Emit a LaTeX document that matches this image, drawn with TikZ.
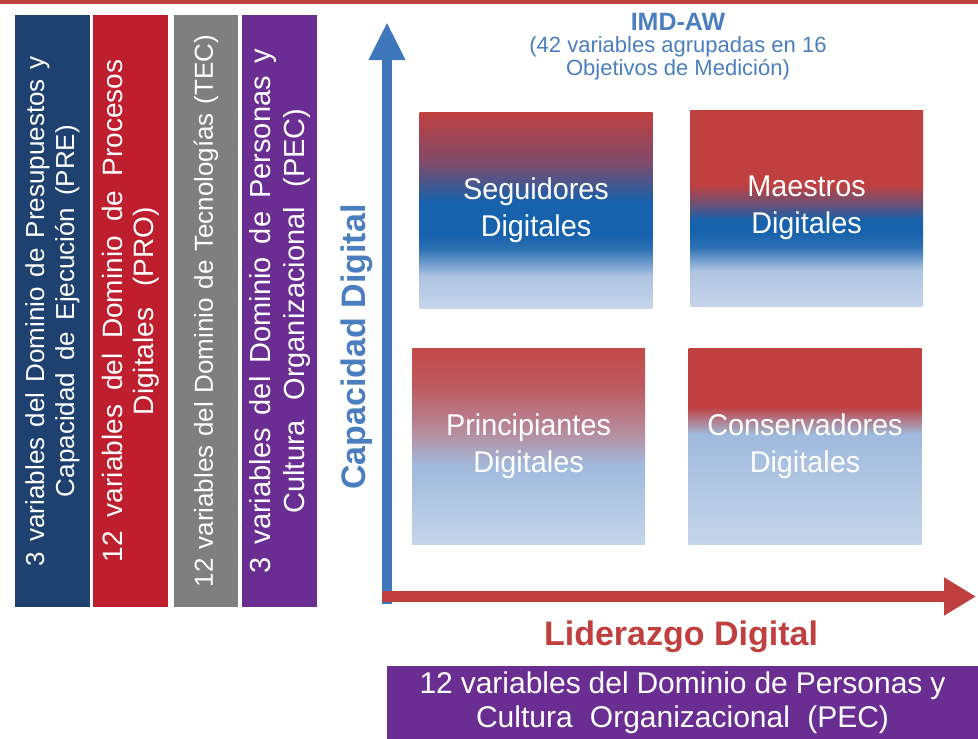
\documentclass[tikz,border=0pt]{standalone}
\usepackage{fontspec}
\setmainfont{Liberation Sans}
\newfontfamily\quadfont[FakeStretch=0.96]{Liberation Sans}
\usetikzlibrary{arrows.meta}

\definecolor{topred}{HTML}{C0403F}
\definecolor{barblue}{HTML}{1F4170}
\definecolor{barred}{HTML}{BE1E2D}
\definecolor{bargray}{HTML}{7F7F7F}
\definecolor{barpurple}{HTML}{6A2D91}
\definecolor{axisblue}{HTML}{3F77BC}
\definecolor{axisred}{HTML}{C0403F}
\definecolor{titleblue}{HTML}{4A7EBF}
\definecolor{qred}{HTML}{C0403F}
\definecolor{qpurp}{HTML}{7E4B6B}
\definecolor{qblue}{HTML}{1662AC}
\definecolor{qmid}{HTML}{AFC4E2}
\definecolor{qlight}{HTML}{C5D5EA}

%% degradados de los cuadrantes (25bp abajo, 75bp arriba)
\pgfdeclareverticalshading{seguidores}{100bp}{color(0bp)=(qlight); color(25bp)=(qlight);
  color(33bp)=(qmid); color(40bp)=(qblue!85!qmid); color(44bp)=(qblue); color(52bp)=(qblue);
  color(62bp)=(qpurp); color(75bp)=(qred); color(100bp)=(qred)}
\pgfdeclareverticalshading{maestros}{100bp}{color(0bp)=(qlight); color(25bp)=(qlight);
  color(34bp)=(qmid); color(40bp)=(qblue!85!qmid); color(44bp)=(qblue); color(47bp)=(qblue);
  color(51bp)=(qblue!50!qred); color(56bp)=(qred); color(100bp)=(qred)}
\pgfdeclareverticalshading{principiantes}{100bp}{color(0bp)=(qlight); color(25bp)=(qlight);
  color(45bp)=(qmid!90!qblue); color(53bp)=(qred!40!qmid); color(65bp)=(qred!80!qmid);
  color(75bp)=(qred!95!white); color(100bp)=(qred)}
\pgfdeclareverticalshading{conservadores}{100bp}{color(0bp)=(qlight); color(25bp)=(qlight);
  color(53bp)=(qmid!90!qblue); color(60bp)=(qred); color(100bp)=(qred)}

\tikzset{
  bar/.style={rotate=90, text=white, inner sep=0pt, minimum width=592pt, align=center},
  quad/.style={minimum width=233pt, minimum height=196pt, inner sep=0pt, text=white,
    align=center, font=\quadfont\fontsize{30}{37}\selectfont,
    execute at begin node={\rule{0pt}{34pt}}},
  axis/.style={line width=#1}
}

\begin{document}
\begin{tikzpicture}[x=1pt,y=-1pt]
\useasboundingbox (0,0) rectangle (978,739);
\fill[topred] (0,0) rectangle (978,4);

%% columnas de la izquierda
\node[bar, fill=barblue, minimum height=75pt, font=\fontsize{26}{30}\selectfont] (pre) at (52.5,311)
  {\makebox[510pt][s]{3 variables del Dominio de Presupuestos y}\\
   \makebox[372pt][s]{Capacidad de Ejecución (PRE)}};
\node[bar, fill=barred, minimum height=75pt, font=\fontsize{28}{31}\selectfont] (pro) at (130.5,311)
  {\makebox[503pt][s]{12 variables del Dominio de Procesos}\\
   \makebox[208pt][s]{Digitales (PRO)}};
\node[bar, fill=bargray, minimum height=64pt, font=\fontsize{26}{30}\selectfont] (tec) at (206,311)
  {\makebox[552pt][s]{12 variables del Dominio de Tecnologías (TEC)}};
\node[bar, fill=barpurple, minimum height=75pt, font=\fontsize{29}{34}\selectfont] (pecv) at (279.5,311)
  {\makebox[525pt][s]{3 variables del Dominio de Personas y}\\
   \makebox[405pt][s]{Cultura Organizacional (PEC)}};

%% ejes
\coordinate (origen) at (387,604);
\coordinate (ytip) at (387,22);
\coordinate (xorig) at (382,596.5);
\coordinate (xtip) at (976,596.5);
\draw[axisblue, axis=10pt, -{Triangle[length=38pt,width=34pt]}] (origen) -- (ytip);
\draw[axisred, axis=11pt, -{Triangle[length=32pt,width=36pt]}] (xorig) -- (xtip);

\node[rotate=90, text=titleblue, font=\bfseries\fontsize{34}{40}\selectfont] (capacidad) at (357,347) {Capacidad Digital};
\node[text=axisred, font=\bfseries\fontsize{34}{40}\selectfont] (liderazgo) at (681,637) {Liderazgo Digital};

\node[text=titleblue, font=\bfseries\fontsize{25}{28}\selectfont] (imd) at (678,22) {IMD-AW};
\node[text=titleblue, align=center, font=\fontsize{22}{23}\selectfont] (objetivos) at (678,58)
  {(42 variables agrupadas en 16\\Objetivos de Medición)};

%% cuadrantes
\node[quad, shading=seguidores] (seguidores) at (536,210) {Seguidores\\Digitales};
\node[quad, shading=maestros] (maestros) at (806.5,208) {Maestros\\Digitales};
\node[quad, shading=principiantes] (principiantes) at (528.5,446) {Principiantes\\Digitales};
\node[quad, shading=conservadores] (conservadores) at (805,446) {Conservadores\\Digitales};

%% dominio PEC abajo
\node[fill=barpurple, text=white, minimum width=591pt, minimum height=74pt, inner sep=0pt,
  align=center, font=\fontsize{30}{34}\selectfont] (pec) at (682.5,703)
  {\makebox[526pt][s]{12 variables del Dominio de Personas y}\\
   \makebox[413pt][s]{Cultura Organizacional (PEC)}};
\end{tikzpicture}
\end{document}
